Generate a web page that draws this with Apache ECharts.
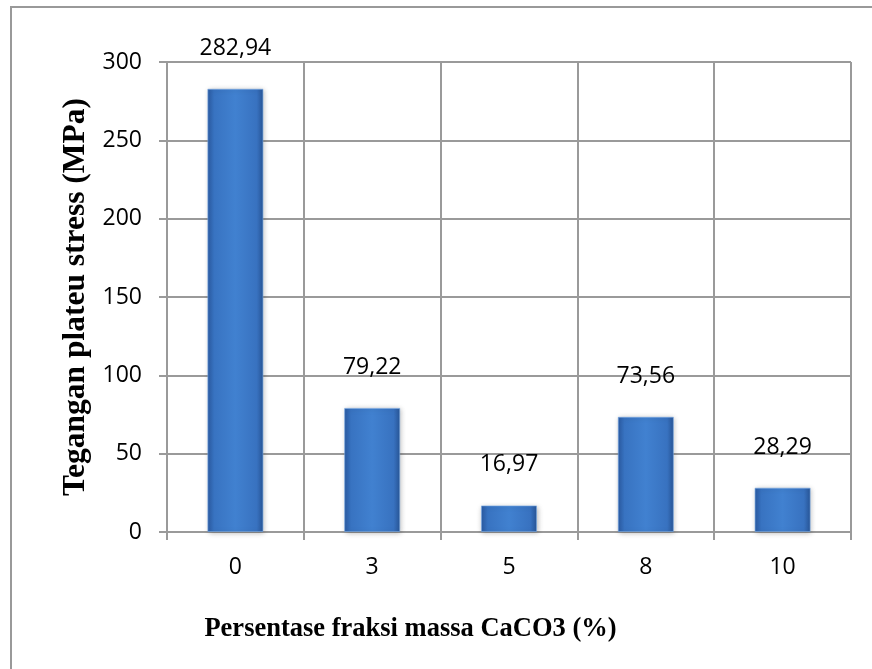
<!DOCTYPE html>
<html>
<head>
<meta charset="utf-8">
<script src="https://cdn.jsdelivr.net/npm/echarts@6/dist/echarts.min.js"></script>
<style>
  html, body { margin: 0; padding: 0; background: #fff; }
  #chart { width: 872px; height: 669px; }
</style>
</head>
<body>
<div id="chart"></div>
<script>
// CaCO3 mass fraction (%) and the measured plateau stress (MPa)
const categories = ['0', '3', '5', '8', '10'];
const plateauStress = [282.94, 79.22, 16.97, 73.56, 28.29];
const yTicks = { min: 0, max: 300, interval: 50 };

const xTitle = 'Persentase fraksi massa CaCO3 (%)';
const yTitle = 'Tegangan plateu stress (MPa)';

const gridColor = '#9a9a9a';
const labelFont = '"Open Sans", "Liberation Sans", sans-serif';
const titleFont = '"Liberation Serif", "DejaVu Serif", serif';

const barFill = new echarts.graphic.LinearGradient(0, 0, 1, 0, [
  { offset: 0, color: '#2a5aa2' },
  { offset: 0.12, color: '#3873c1' },
  { offset: 0.5, color: '#4181d0' },
  { offset: 0.88, color: '#3872c0' },
  { offset: 1, color: '#285596' }
]);

const chart = echarts.init(document.getElementById('chart'), null, { renderer: 'canvas' });

chart.setOption({
  animation: false,
  backgroundColor: '#ffffff',
  grid: { left: 167, right: 21, top: 62, bottom: 137, containLabel: false },
  graphic: [{
    type: 'rect',
    shape: { x: 11, y: 7, width: 900, height: 700 },
    style: { fill: 'none', stroke: '#999999', lineWidth: 2 },
    silent: true,
    z: -10
  }],
  xAxis: {
    type: 'category',
    data: categories,
    boundaryGap: true,
    name: xTitle,
    nameLocation: 'middle',
    nameGap: 84,
    nameTextStyle: {
      fontFamily: titleFont, fontWeight: 'bold', fontSize: 26.5, color: '#000',
      padding: [0, 197, 0, 0]
    },
    axisLine: { show: true, lineStyle: { color: gridColor, width: 2 } },
    axisTick: { show: true, length: 8, inside: false, lineStyle: { color: gridColor, width: 2 } },
    axisLabel: { margin: 24, fontFamily: labelFont, fontSize: 23, color: '#000' },
    splitLine: { show: true, lineStyle: { color: gridColor, width: 2 } }
  },
  yAxis: {
    type: 'value',
    min: yTicks.min,
    max: yTicks.max,
    interval: yTicks.interval,
    name: yTitle,
    nameLocation: 'middle',
    nameGap: 70,
    nameTextStyle: { fontFamily: titleFont, fontWeight: 'bold', fontSize: 31.5, color: '#000' },
    axisLine: { show: true, lineStyle: { color: gridColor, width: 2 } },
    axisTick: { show: true, length: 8, lineStyle: { color: gridColor, width: 2 } },
    axisLabel: { margin: 25, fontFamily: labelFont, fontSize: 23, color: '#000' },
    splitLine: { show: true, lineStyle: { color: gridColor, width: 2 } }
  },
  series: [{
    type: 'bar',
    data: plateauStress,
    barWidth: '41%',
    itemStyle: {
      color: barFill,
      borderColor: 'rgba(120,170,230,0.6)',
      borderWidth: 1,
      shadowColor: 'rgba(0,0,0,0.25)',
      shadowBlur: 5,
      shadowOffsetX: 1,
      shadowOffsetY: 1
    },
    label: {
      show: true,
      position: 'top',
      distance: 29,
      fontFamily: labelFont,
      fontSize: 23,
      color: '#000',
      formatter: p => p.value.toFixed(2).replace('.', ',')
    }
  }]
});
</script>
</body>
</html>
